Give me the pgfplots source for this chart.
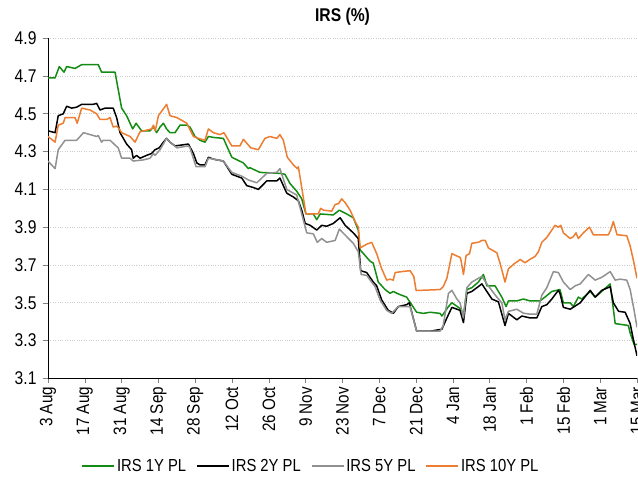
\documentclass[border=0pt]{standalone}
\usepackage{fontspec}
\setmainfont{Liberation Sans}[FakeStretch=0.85]
\usepackage{pgfplots}
\pgfplotsset{compat=1.18}
\definecolor{cgreen}{RGB}{20,140,20}
\definecolor{cgray}{RGB}{145,145,145}
\definecolor{corange}{RGB}{237,125,49}
\begin{document}
\begin{tikzpicture}
\begin{axis}[
  at={(0,0)}, anchor=south west,
  scale only axis, width=589bp, height=340.2bp,
  xmin=0, xmax=224, ymin=3.1, ymax=4.9,
  axis x line*=bottom, axis y line*=left,
  axis line style={black, line width=0.9bp},
  xtick={0,14,...,224},
  xticklabels={3 Aug,17 Aug,31 Aug,14 Sep,28 Sep,12 Oct,26 Oct,9 Nov,23 Nov,7 Dec,21 Dec,4 Jan,18 Jan,1 Feb,15 Feb,1 Mar,15 Mar},
  ytick={3.1,3.3,...,4.91},
  tick align=outside, major tick length=5bp,
  tick style={gray, line width=0.6bp},
  /pgf/number format/assume math mode=true,
  yticklabel style={font=\fontsize{18.5}{18.5}\selectfont, xshift=-3bp,
    /pgf/number format/fixed, /pgf/number format/fixed zerofill, /pgf/number format/precision=1},
  xticklabel style={rotate=90, anchor=east, font=\fontsize{18}{18}\selectfont},
  ymajorgrids, major grid style={dotted, gray!40, line width=0.7bp},
  title={\textbf{IRS (\%)}}, title style={font=\fontsize{18.5}{18.5}\selectfont, at={(0.5,1)}, yshift=3bp},
  legend columns=4,
  legend style={at={(0.4465,-0.2575)}, anchor=center, draw=none, fill=none,
    font=\fontsize{17.5}{17.5}\selectfont, /tikz/every even column/.append style={column sep=8bp}},
  legend image code/.code={\draw[#1, line width=1.5bp] (0bp,0bp) -- (32bp,0bp);},
  every axis plot/.append style={line width=1.5bp, line join=round},
]
\addplot[cgreen] coordinates {
(0,4.69) (2.7,4.69) (4.3,4.75) (6.1,4.72) (7.1,4.75) (10.3,4.74) (12.8,4.76) (19.1,4.76)
(20.4,4.72) (25.5,4.72) (28.0,4.53) (29.9,4.49) (32.2,4.42) (33.5,4.45) (35.6,4.41) (38.8,4.41)
(40.1,4.43) (41.3,4.40) (42.6,4.43) (43.9,4.45) (45.1,4.42) (46.4,4.40) (48.3,4.40) (50.2,4.44)
(52.8,4.44) (54.0,4.43) (55.9,4.38) (57.8,4.36) (59.7,4.35) (61.0,4.38) (62.9,4.375) (66.7,4.37)
(69.9,4.27) (74.3,4.24) (76.2,4.21) (76.8,4.215) (80.6,4.19) (88.2,4.185) (90.1,4.18) (92.1,4.13)
(94.6,4.09) (96.5,4.05) (98.1,3.97) (100.9,3.97) (102.2,3.94) (103.5,3.97) (108.5,3.965) (110.8,3.99)
(113.6,3.97) (116.1,3.95) (118.0,3.885) (118.7,3.78) (122.5,3.72) (123.7,3.71) (125.6,3.61) (128.2,3.57)
(130.1,3.55) (131.3,3.56) (133.2,3.547) (136.4,3.53) (138.3,3.49) (140.2,3.45) (142.8,3.444) (145.3,3.45)
(149.1,3.444) (149.8,3.43) (152.3,3.48) (153.6,3.50) (156.7,3.47) (158.0,3.435) (159.3,3.57) (161.2,3.58)
(163.7,3.61) (165.6,3.65) (166.9,3.59) (170.0,3.59) (172.6,3.53) (174.2,3.48) (175.1,3.51) (178.3,3.51)
(180.8,3.52) (183.3,3.51) (187.1,3.51) (189.0,3.53) (191.6,3.56) (194.7,3.57) (196.0,3.50) (198.6,3.50)
(199.8,3.48) (201.7,3.53) (203.0,3.52) (206.2,3.56) (208.1,3.53) (210.0,3.553) (213.8,3.60) (215.7,3.39)
(220.7,3.38) (221.4,3.34) (222.9,3.28) (224,3.28)
};
\addlegendentry{IRS 1Y PL}
\addplot[black] coordinates {
(0,4.41) (2.7,4.40) (3.9,4.49) (5.8,4.50) (7.1,4.54) (9.0,4.53) (10.9,4.535) (12.8,4.55)
(14.7,4.55) (17.2,4.55) (18.5,4.555) (19.8,4.52) (21.7,4.53) (24.8,4.53) (26.1,4.48) (27.4,4.40)
(29.9,4.34) (31.8,4.31) (32.4,4.265) (33.7,4.28) (35.0,4.265) (37.5,4.28) (39.4,4.29) (40.7,4.31)
(42.3,4.32) (43.9,4.35) (45.1,4.37) (46.4,4.35) (48.3,4.33) (50.9,4.335) (53.4,4.34) (55.3,4.29)
(56.6,4.24) (57.8,4.23) (59.7,4.23) (61.0,4.27) (62.9,4.26) (66.7,4.25) (69.9,4.18) (73.7,4.16)
(75.6,4.12) (78.1,4.11) (80.0,4.10) (83.2,4.145) (87.0,4.145) (88.2,4.16) (90.8,4.08) (93.3,4.06)
(95.2,4.04) (96.5,3.99) (97.8,3.92) (99.7,3.91) (102.2,3.885) (104.1,3.91) (106.0,3.905) (108.5,3.92)
(111.1,3.95) (113.0,3.91) (116.1,3.87) (118.0,3.84) (118.9,3.67) (121.2,3.66) (123.7,3.61) (125.0,3.59)
(126.9,3.515) (129.4,3.46) (130.7,3.45) (131.3,3.444) (133.2,3.48) (136.4,3.49) (137.4,3.50) (140.2,3.35)
(145.3,3.35) (149.8,3.36) (151.7,3.42) (153.6,3.476) (156.7,3.46) (158.0,3.395) (159.3,3.55) (161.2,3.56)
(165.0,3.60) (166.9,3.56) (168.8,3.52) (171.3,3.505) (173.8,3.38) (175.1,3.444) (178.3,3.41) (180.2,3.43)
(183.3,3.42) (185.9,3.42) (187.8,3.48) (189.7,3.49) (191.6,3.52) (194.1,3.566) (194.7,3.55) (196.0,3.476)
(198.6,3.466) (202.4,3.50) (206.2,3.566) (208.1,3.53) (210.6,3.566) (213.8,3.585) (215.0,3.50) (217.0,3.455)
(219.5,3.45) (221.4,3.39) (222.7,3.30) (224,3.22)
};
\addlegendentry{IRS 2Y PL}
\addplot[cgray] coordinates {
(0,4.25) (2.7,4.21) (3.9,4.31) (6.5,4.36) (10.9,4.36) (13.5,4.40) (18.5,4.38) (19.1,4.385)
(20.4,4.35) (21.0,4.36) (23.6,4.36) (25.5,4.335) (26.7,4.32) (28.0,4.265) (31.2,4.265) (32.4,4.25)
(36.3,4.256) (38.8,4.265) (40.1,4.29) (40.7,4.28) (42.6,4.31) (45.1,4.37) (46.4,4.35) (49.0,4.32)
(53.4,4.33) (54.0,4.32) (56.3,4.22) (59.7,4.22) (61.0,4.265) (62.9,4.26) (66.7,4.25) (69.9,4.19)
(73.7,4.17) (76.2,4.15) (79.4,4.135) (83.2,4.185) (87.0,4.19) (88.2,4.21) (90.8,4.10) (94.6,4.07)
(96.5,3.97) (98.4,3.87) (100.9,3.865) (102.4,3.82) (104.1,3.84) (106.0,3.82) (109.2,3.83) (110.8,3.89)
(113.6,3.85) (116.1,3.815) (118.0,3.77) (119.1,3.65) (121.2,3.645) (124.4,3.585) (126.3,3.515) (128.8,3.46)
(130.7,3.444) (133.2,3.48) (136.4,3.48) (137.7,3.48) (140.2,3.35) (149.1,3.35) (150.3,3.38) (152.3,3.55)
(153.6,3.566) (155.5,3.52) (156.7,3.50) (158.0,3.42) (159.3,3.58) (161.2,3.61) (165.0,3.64) (166.9,3.60)
(170.7,3.53) (172.6,3.50) (173.8,3.41) (175.1,3.455) (178.3,3.466) (180.8,3.445) (183.3,3.44) (185.9,3.44)
(187.8,3.54) (189.7,3.58) (192.2,3.665) (194.1,3.66) (196.0,3.61) (198.6,3.57) (200.5,3.59) (202.4,3.60)
(205.5,3.65) (208.1,3.62) (210.6,3.635) (213.8,3.665) (215.7,3.62) (217.6,3.625) (220.1,3.62) (221.4,3.57)
(222.9,3.46) (224,3.37)
};
\addlegendentry{IRS 5Y PL}
\addplot[corange] coordinates {
(0,4.38) (2.7,4.35) (3.9,4.44) (5.8,4.45) (6.5,4.48) (10.3,4.48) (11.1,4.45) (12.8,4.53)
(16.0,4.52) (18.5,4.50) (19.8,4.47) (22.3,4.47) (23.6,4.48) (24.8,4.43) (26.1,4.435) (27.1,4.42)
(28.0,4.40) (31.2,4.38) (33.1,4.35) (35.0,4.405) (39.4,4.42) (40.1,4.44) (40.8,4.41) (42.0,4.49)
(45.1,4.55) (46.4,4.49) (49.0,4.48) (52.8,4.45) (55.3,4.38) (57.2,4.37) (59.7,4.36) (61.0,4.42)
(62.9,4.40) (65.4,4.39) (66.9,4.40) (69.9,4.33) (73.0,4.33) (74.3,4.365) (77.1,4.32) (80.0,4.31)
(82.5,4.37) (84.4,4.38) (87.0,4.37) (88.2,4.39) (89.5,4.36) (91.0,4.27) (93.3,4.23) (94.8,4.21)
(95.2,4.22) (96.5,4.11) (98.1,3.97) (102.8,3.97) (103.7,4.00) (104.8,3.99) (107.9,3.985) (109.2,4.02)
(110.5,4.025) (111.7,4.05) (113.0,4.03) (114.9,3.99) (116.8,3.93) (118.0,3.90) (118.7,3.79) (121.2,3.81)
(123.1,3.82) (125.0,3.76) (126.9,3.68) (128.8,3.62) (130.1,3.625) (131.3,3.62) (132.0,3.66) (134.5,3.665)
(137.7,3.67) (139.1,3.64) (140.0,3.565) (149.1,3.57) (150.3,3.585) (151.7,3.63) (153.6,3.76) (156.7,3.74)
(157.0,3.73) (158.0,3.65) (159.0,3.75) (160.3,3.76) (161.2,3.815) (163.7,3.82) (165.0,3.83) (166.3,3.83)
(167.5,3.79) (170.7,3.765) (171.9,3.71) (173.8,3.61) (175.1,3.68) (177.6,3.71) (178.8,3.72) (179.5,3.73)
(181.4,3.712) (183.3,3.73) (185.2,3.745) (186.5,3.77) (187.8,3.82) (189.7,3.846) (191.6,3.885) (192.8,3.91)
(194.1,3.90) (195.0,3.91) (196.0,3.87) (198.6,3.84) (199.8,3.85) (200.8,3.87) (201.7,3.84) (203.6,3.87)
(205.9,3.90) (207.4,3.86) (213.1,3.86) (214.0,3.885) (215.0,3.93) (216.4,3.86) (220.1,3.855) (221.4,3.80)
(222.7,3.72) (224,3.63)
};
\addlegendentry{IRS 10Y PL}
\end{axis}
\pgfresetboundingbox
\path[use as bounding box] (-48bp,-101.6bp) rectangle (590bp,378.4bp);
\end{tikzpicture}
\end{document}
